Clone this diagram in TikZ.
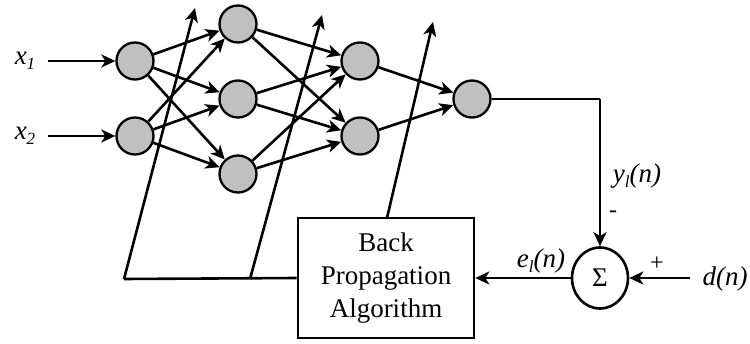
\documentclass[tikz,border=0pt]{standalone}
\usepackage{fontspec}
\setmainfont{Liberation Serif}
\usetikzlibrary{arrows.meta,shapes.geometric}
\definecolor{nfill}{HTML}{C0C0C0}
\newcommand\mysub[1]{\raisebox{-5pt}{\fontsize{17}{17}\selectfont\textit{#1}}}
\begin{document}
\begin{tikzpicture}[x=1pt,y=-1pt,
  every node/.style={font=\fontsize{27}{33}\selectfont},
  neuron/.style={circle,draw=black,line width=2.3pt,fill=nfill,minimum size=37pt,inner sep=0pt},
  conn/.style={line width=2.6pt,-{Stealth[length=14pt,width=13pt,inset=4pt]}},
  wire/.style={line width=2.6pt},
  lbl/.style={inner sep=0pt},
  sign/.style={inner sep=0pt,font=\fontsize{24}{28}\selectfont}]
\useasboundingbox (0,0) rectangle (750,344);
% neurons
\node[neuron] (i1) at (135,61) {};
\node[neuron] (i2) at (135,136) {};
\node[neuron] (h1) at (238,24) {};
\node[neuron] (h2) at (238,99) {};
\node[neuron] (h3) at (238,174) {};
\node[neuron] (g1) at (360,61) {};
\node[neuron] (g2) at (360,136) {};
\node[neuron] (o) at (472,99) {};
% inputs
\node[lbl] (x1) at (25,61) {\textit{x}\mysub{1}};
\node[lbl] (x2) at (25,136) {\textit{x}\mysub{2}};
\coordinate (x1s) at (48,61);
\coordinate (x2s) at (48,136);
\draw[conn] (x1s) -- (i1);
\draw[conn] (x2s) -- (i2);
% layer connections
\foreach \a in {i1,i2}{\foreach \b in {h1,h2,h3}{\draw[conn] (\a) -- (\b);}}
\foreach \a in {h1,h2,h3}{\foreach \b in {g1,g2}{\draw[conn] (\a) -- (\b);}}
\foreach \a in {g1,g2}{\draw[conn] (\a) -- (o);}
% box and summation
\node[draw,line width=2.6pt,minimum width=176pt,minimum height=120pt,align=center,inner sep=0pt] (bp) at (386,278) {Back\\Propagation\\Algorithm};
\node[ellipse,draw,line width=2.6pt,minimum width=56pt,minimum height=61pt,inner sep=0pt] (sum) at (600,278) {Σ};
% output to sum
\coordinate (corner) at (600,99);
\draw[wire] (o) -- (corner);
\draw[conn] (corner) -- (sum);
\node[lbl] (yl) at (637,176) {\textit{y}\mysub{l}\textit{(n)}};
\node[sign] (minus) at (613,214) {-};
% error to box
\draw[conn] (sum) -- (bp);
\node[lbl] (el) at (541,261) {\textit{e}\mysub{l}\textit{(n)}};
% desired
\node[lbl] (dn) at (725,279) {\textit{d(n)}};
\coordinate (ds) at (690,278);
\draw[conn] (ds) -- (sum);
\node[sign] (plus) at (657,264) {+};
% feedback lines
\coordinate (f1s) at (124,279);
\coordinate (f1e) at (195,8);
\coordinate (f2s) at (250,279);
\coordinate (f2e) at (322,15);
\coordinate (f3s) at (387,218);
\coordinate (f3e) at (433,22);
\draw[wire] (bp.west) -- (f1s);
\draw[conn] (f1s) -- (f1e);
\draw[conn] (f2s) -- (f2e);
\draw[conn] (f3s) -- (f3e);
\end{tikzpicture}
\end{document}
